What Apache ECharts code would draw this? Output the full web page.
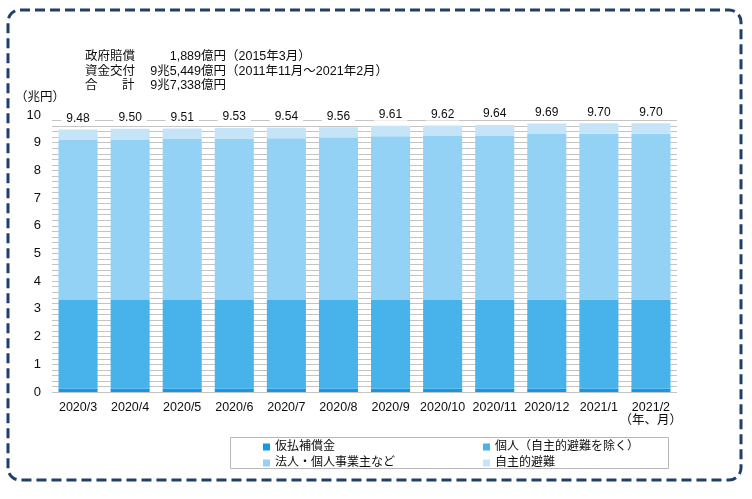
<!DOCTYPE html>
<html>
<head>
<meta charset="utf-8">
<script src="https://cdn.jsdelivr.net/npm/echarts@6/dist/echarts.min.js"></script>
<style>
html,body{margin:0;padding:0;background:#fff;}
#c{width:752px;height:499px;}
</style>
</head>
<body>
<div id="c"></div>
<script>
var categories = ['2020/3','2020/4','2020/5','2020/6','2020/7','2020/8','2020/9','2020/10','2020/11','2020/12','2021/1','2021/2'];
var totals    = [9.48,9.50,9.51,9.53,9.54,9.56,9.61,9.62,9.64,9.69,9.70,9.70];
var karibarai = [0.13,0.13,0.13,0.13,0.13,0.13,0.13,0.13,0.13,0.13,0.13,0.13];
var kojin     = [3.19,3.19,3.19,3.19,3.19,3.19,3.19,3.19,3.21,3.21,3.21,3.21];
var hojin     = [5.78,5.80,5.81,5.83,5.84,5.86,5.91,5.92,5.92,5.97,5.98,5.98];
var jishu     = [0.38,0.38,0.38,0.38,0.38,0.38,0.38,0.38,0.38,0.38,0.38,0.38];
var seriesNames = ['仮払補償金','個人（自主的避難を除く）','法人・個人事業主など','自主的避難'];
var yTicks = [0,1,2,3,4,5,6,7,8,9,10];

var FONT = '"Liberation Sans", "Noto Sans CJK JP", sans-serif';
var colors = ['#1497E4','#48B3EA','#93D1F5','#C6E4F8'];
var TXT = '#0d0d0d';

var chart = echarts.init(document.getElementById('c'));

function mkSeries(i, data) {
  var s = {
    name: seriesNames[i], type: 'bar', stack: 'total', data: data,
    barWidth: '75%', itemStyle: { color: colors[i] }, emphasis: { disabled: true }
  };
  if (i === 3) {
    s.label = {
      show: true, position: 'top', distance: 5, color: TXT, fontSize: 12, fontFamily: FONT,
      backgroundColor: '#fff', padding: [1, 5, 0, 5],
      formatter: function (p) { return totals[p.dataIndex].toFixed(2); }
    };
  }
  return s;
}

var option = {
  animation: false,
  textStyle: { fontFamily: FONT },
  grid: { left: 52, right: 75, top: 115, bottom: 107 },
  xAxis: {
    type: 'category', data: categories,
    axisLine: { show: false }, axisTick: { show: false },
    axisLabel: { color: TXT, fontSize: 12.5, margin: 9, fontFamily: FONT, interval: 0 }
  },
  yAxis: {
    type: 'value', min: yTicks[0], max: yTicks[yTicks.length - 1], interval: 1,
    axisLine: { show: false }, axisTick: { show: false },
    axisLabel: { color: TXT, fontSize: 13, margin: 11, fontFamily: FONT },
    splitLine: { show: true, showMaxLine: false, lineStyle: { color: '#c4c4c4', width: 1 } },
    minorTick: { show: false, splitNumber: 5 },
    minorSplitLine: { show: true, lineStyle: { color: '#c4c4c4', width: 1 } }
  },
  legend: [
    {
      data: [seriesNames[0], seriesNames[2]], orient: 'vertical', left: 263, top: 440,
      padding: 0, itemWidth: 7, itemHeight: 7, itemGap: 2, icon: 'rect',
      textStyle: { color: TXT, fontSize: 12, lineHeight: 14, fontFamily: FONT }, selectedMode: false
    },
    {
      data: [seriesNames[1], seriesNames[3]], orient: 'vertical', left: 483, top: 440,
      padding: 0, itemWidth: 7, itemHeight: 7, itemGap: 2, icon: 'rect',
      textStyle: { color: TXT, fontSize: 12, lineHeight: 14, fontFamily: FONT }, selectedMode: false
    }
  ],
  graphic: [
    { type: 'rect', shape: { x: 8, y: 10, width: 733, height: 470, r: 12 }, silent: true, z: -10,
      style: { fill: 'none', stroke: '#1F3F6E', lineWidth: 3, lineDash: [10, 5] } },
    { type: 'rect', shape: { x: 230.5, y: 437.5, width: 438, height: 31 }, silent: true,
      style: { fill: 'none', stroke: '#b8b8b8', lineWidth: 1 } },
    { type: 'text', left: 15, top: 91, style: { text: '（兆円）', font: '12.5px ' + FONT, fill: TXT } },
    { type: 'text', right: 752 - 682, top: 414, style: { text: '（年、月）', font: '12.5px ' + FONT, fill: TXT } },
    { type: 'text', x: 85, y: 57, style: { text: '政府賠償', font: '12.5px ' + FONT, fill: TXT, verticalAlign: 'middle' } },
    { type: 'text', x: 226, y: 57, style: { text: '1,889億円', font: '12.5px ' + FONT, fill: TXT, align: 'right', verticalAlign: 'middle' } },
    { type: 'text', x: 226, y: 57, style: { text: '（2015年3月）', font: '12.5px ' + FONT, fill: TXT, verticalAlign: 'middle' } },
    { type: 'text', x: 85, y: 71.5, style: { text: '資金交付', font: '12.5px ' + FONT, fill: TXT, verticalAlign: 'middle' } },
    { type: 'text', x: 226, y: 71.5, style: { text: '9兆5,449億円', font: '12.5px ' + FONT, fill: TXT, align: 'right', verticalAlign: 'middle' } },
    { type: 'text', x: 226, y: 71.5, style: { text: '（2011年11月～2021年2月）', font: '12.5px ' + FONT, fill: TXT, verticalAlign: 'middle' } },
    { type: 'text', x: 85, y: 86, style: { text: '合', font: '12.5px ' + FONT, fill: TXT, verticalAlign: 'middle' } },
    { type: 'text', x: 122, y: 86, style: { text: '計', font: '12.5px ' + FONT, fill: TXT, verticalAlign: 'middle' } },
    { type: 'text', x: 226, y: 86, style: { text: '9兆7,338億円', font: '12.5px ' + FONT, fill: TXT, align: 'right', verticalAlign: 'middle' } }
  ],
  series: [
    mkSeries(0, karibarai),
    mkSeries(1, kojin),
    mkSeries(2, hojin),
    mkSeries(3, jishu)
  ]
};
chart.setOption(option);
</script>
</body>
</html>
